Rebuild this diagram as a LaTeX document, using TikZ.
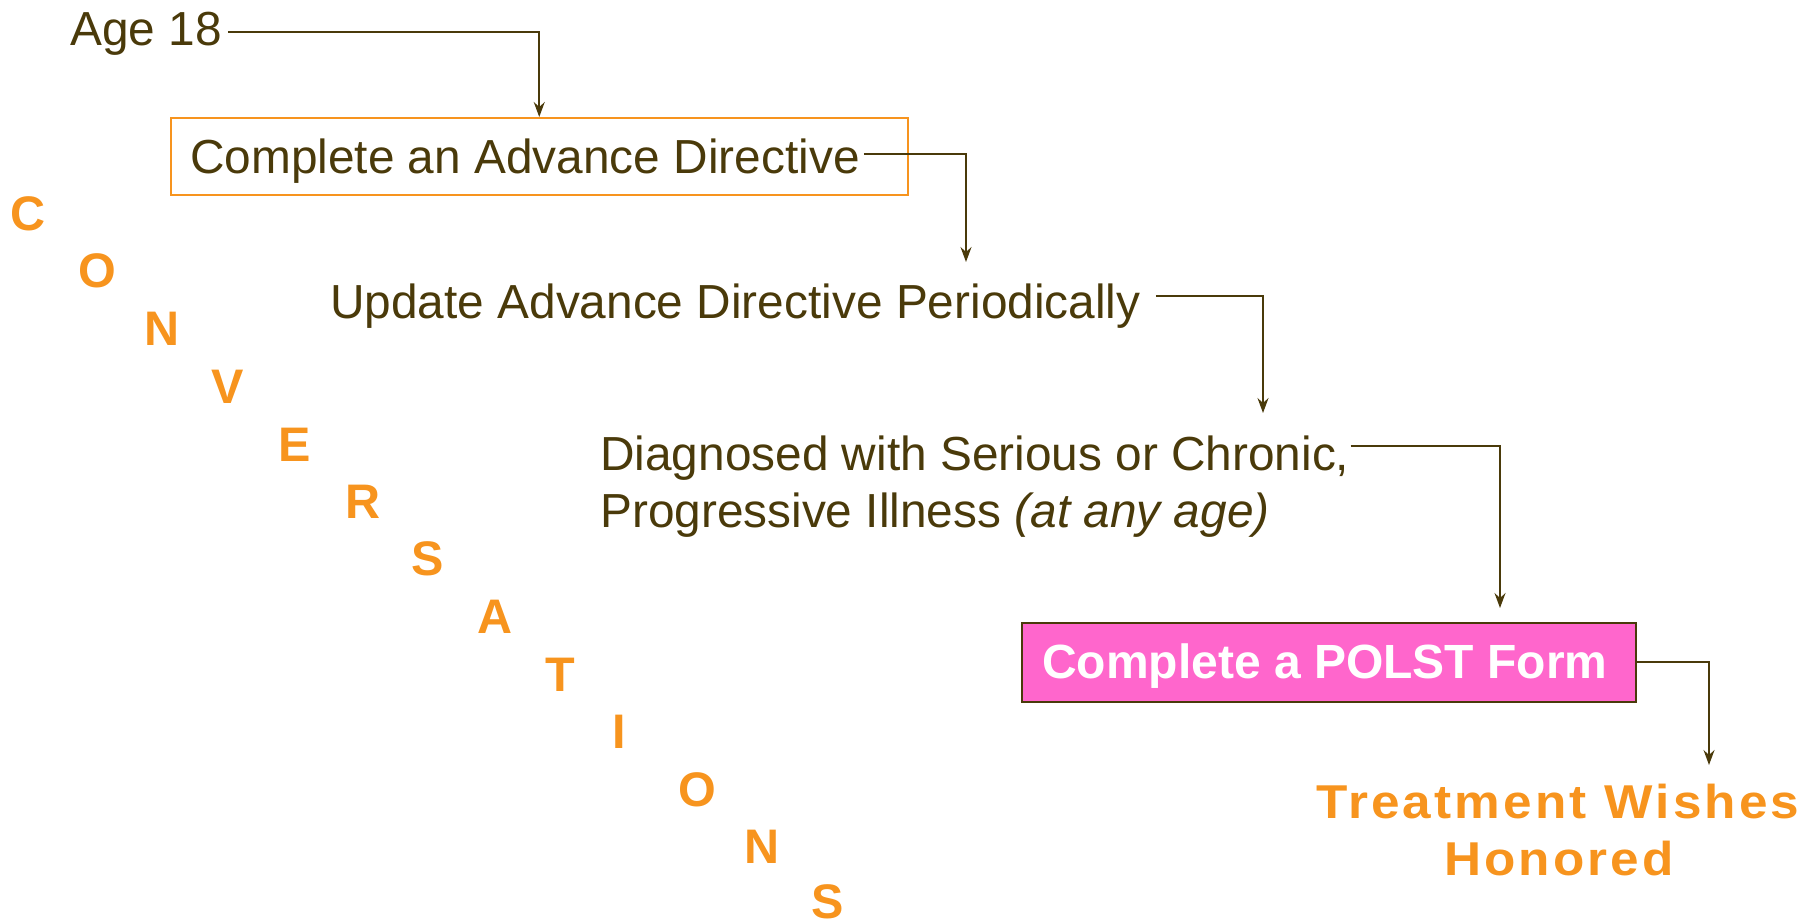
\documentclass[tikz,border=0pt]{standalone}
\usepackage{fontspec}
\setmainfont{Liberation Sans}
\usetikzlibrary{arrows.meta}
\definecolor{brn}{RGB}{74,58,10}
\definecolor{org}{RGB}{247,148,30}
\definecolor{pnk}{RGB}{255,102,204}
\begin{document}
\begin{tikzpicture}[x=1pt,y=-1pt,
  txt/.style={inner sep=0pt, anchor=base west, text=brn, font=\fontsize{47.8}{57}\selectfont},
  ltr/.style={inner sep=0pt, anchor=base, text=org, font=\fontsize{48.5}{58}\selectfont\bfseries},
  res/.style={inner sep=0pt, anchor=base, text=org, font=\fontsize{47.5}{57}\selectfont\bfseries\addfontfeatures{LetterSpace=6.2}},
  conn/.style={draw=brn, line width=1.6pt, -{Stealth[length=15pt,width=11pt,inset=5pt]}},
]
\useasboundingbox (0,0) rectangle (1820,922);

\node[txt] (age) at (70,45) {Age 18};
\node[draw=org, line width=1.5pt, minimum width=737pt, minimum height=77pt, inner sep=0pt, anchor=north west] (cadbox) at (170,117) {};
\node[txt] (cad) at (190,173) {Complete an Advance Directive};
\node[txt] (upd) at (330,318) {Update Advance Directive Periodically};
\node[txt] (dg1) at (600,470) {Diagnosed with Serious or Chronic,};
\node[txt] (dg2) at (600,527) {Progressive Illness \textit{(at any age)}};
\node[draw=brn, fill=pnk, line width=1.5pt, minimum width=614pt, minimum height=79pt, inner sep=0pt, anchor=north west] (polstbox) at (1021,622) {};
\node[inner sep=0pt, anchor=base west, text=white, font=\fontsize{48}{58}\selectfont\bfseries] (polst) at (1042,678) {Complete a POLST Form};
\node[res] (tw1) at (1558,818) {\scalebox{1.08}[1]{Treatment Wishes}};
\node[res] (tw2) at (1559,875) {\scalebox{1.08}[1]{Honored}};

\foreach \l/\x/\y [count=\i] in {C/28/230, O/97/287, N/162/345, V/228/403, E/295/461, R/363/518, S/428/575, A/495/633, T/560/691, I/619/748, O/697/806, N/762/863, S/828/918}
  \node[ltr] (c\i) at (\x,\y) {\l};

\coordinate (t2) at (966,262);
\coordinate (t3) at (1263,413);
\coordinate (t4) at (1500,608);
\coordinate (t5) at (1709,765);

\draw[conn] ([xshift=6pt,yshift=13pt]age.base east) -| (cadbox.north);
\draw[conn] ([xshift=4pt,yshift=19pt]cad.base east) -| (t2);
\draw[conn] ([xshift=15pt,yshift=22pt]upd.base east) -| (t3);
\draw[conn] ([xshift=1pt,yshift=24pt]dg1.base east) -| (t4);
\draw[conn] (polstbox.east) -| (t5);
\end{tikzpicture}
\end{document}
